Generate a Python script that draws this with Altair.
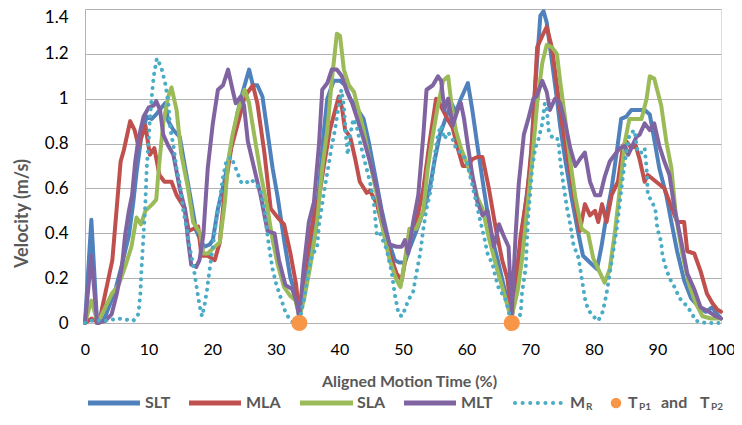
import altair as alt
import pandas as pd

# ---------------- data ----------------
slt_x = [0, 1.0, 1.9, 3.2, 4.8, 5.8, 6.9, 7.6, 8.1, 8.9, 9.7, 10.5, 11.2, 12.0, 12.6, 13.1, 13.9, 14.9, 15.7, 16.7,
         17.5, 18.3, 18.8, 19.6, 20.1, 20.9, 21.9, 23.0, 24.0, 24.8, 25.8, 26.4, 27.1, 27.9, 28.7, 29.5, 30.3, 31.3,
         32.3, 33.1, 33.7, 34.9, 36.0, 36.8, 37.5, 38.1, 39.1, 40.1, 40.9, 41.7, 42.7, 43.8, 44.6, 45.6, 46.6, 47.7,
         48.7, 49.4, 50.3, 51.0, 52.1, 53.2, 54.2, 55.0, 55.8, 56.8, 57.6, 58.3, 59.1, 60.2, 60.9, 61.7, 62.7, 63.8,
         64.9, 65.8, 67.1, 68.0, 69.0, 70.0, 70.8, 71.6, 72.1, 72.6, 73.4, 74.2, 74.7, 75.5, 76.5, 77.5, 78.3, 79.4,
         80.5, 81.2, 82.0, 82.8, 83.6, 84.3, 85.1, 85.9, 88.0, 88.8, 89.5, 90.3, 91.4, 92.2, 93.1, 94.2, 95.3, 96.6,
         97.6, 98.6, 99.4, 100]
slt_y = [0, 0.46, 0.0, 0.03, 0.15, 0.26, 0.39, 0.54, 0.67, 0.84, 0.92, 0.91, 0.93, 0.96, 0.98, 0.9, 0.86, 0.83, 0.7,
         0.54, 0.41, 0.36, 0.34, 0.35, 0.37, 0.51, 0.63, 0.79, 0.94, 1.03, 1.13, 1.06, 1.06, 1.01, 0.85, 0.69, 0.56,
         0.37, 0.2, 0.13, 0.02, 0.2, 0.4, 0.6, 0.84, 1.0, 1.08, 1.08, 1.06, 1.0, 0.96, 0.91, 0.81, 0.66, 0.51, 0.37,
         0.28, 0.27, 0.27, 0.33, 0.41, 0.5, 0.6, 0.73, 0.84, 0.92, 0.98, 0.94, 1.0, 1.07, 0.95, 0.79, 0.6, 0.4, 0.28,
         0.17, 0.02, 0.25, 0.47, 0.69, 1.06, 1.37, 1.39, 1.34, 1.17, 1.0, 0.88, 0.73, 0.56, 0.41, 0.3, 0.27, 0.24,
         0.34, 0.48, 0.6, 0.76, 0.91, 0.92, 0.95, 0.95, 0.93, 0.82, 0.69, 0.57, 0.45, 0.32, 0.19, 0.11, 0.07, 0.05,
         0.07, 0.04, 0.02]

mla_x = [0, 1.0, 2.2, 3.7, 4.3, 5.6, 6.1, 7.1, 7.8, 8.4, 9.5, 10.2, 10.9, 11.7, 12.5, 13.6, 14.4, 15.7, 16.3, 17.8,
         18.3, 19.3, 20.4, 21.2, 22.0, 23.0, 24.5, 25.1, 26.4, 27.1, 28.2, 29.2, 30.3, 31.3, 32.3, 33.2, 33.7, 34.6,
         36.0, 36.8, 37.5, 38.5, 39.9, 40.4, 40.9, 41.7, 42.5, 43.2, 44.3, 44.8, 45.9, 46.9, 47.9, 49.0, 49.8, 50.3,
         51.0, 52.1, 53.2, 54.2, 55.2, 55.7, 56.8, 57.8, 58.6, 59.4, 60.2, 60.9, 61.7, 62.5, 63.5, 64.6, 65.6, 66.4,
         67.1, 67.7, 68.5, 69.5, 70.3, 71.1, 71.9, 72.6, 73.4, 74.2, 75.0, 76.0, 77.1, 77.8, 78.6, 79.4, 80.2, 80.7,
         81.3, 82.0, 82.8, 83.8, 84.6, 85.1, 85.9, 86.6, 87.2, 88.0, 88.5, 89.8, 91.1, 91.9, 93.1, 94.2, 94.7, 95.8,
         96.8, 97.8, 98.6, 99.4, 100]
mla_y = [0, 0.02, 0.0, 0.2, 0.28, 0.72, 0.77, 0.9, 0.86, 0.79, 0.88, 0.75, 0.78, 0.66, 0.63, 0.63, 0.57, 0.51, 0.41,
         0.43, 0.3, 0.3, 0.28, 0.36, 0.6, 0.78, 0.94, 1.01, 1.06, 0.98, 0.76, 0.51, 0.47, 0.44, 0.31, 0.17, 0.03, 0.25,
         0.48, 0.56, 0.69, 0.86, 1.01, 0.96, 0.86, 0.83, 0.73, 0.63, 0.58, 0.59, 0.53, 0.42, 0.31, 0.22, 0.19, 0.27,
         0.39, 0.45, 0.6, 0.81, 1.0, 0.98, 0.92, 0.87, 0.78, 0.7, 0.7, 0.73, 0.74, 0.74, 0.6, 0.42, 0.28, 0.2, 0.03,
         0.17, 0.39, 0.57, 0.81, 1.23, 1.28, 1.32, 1.23, 1.06, 0.89, 0.72, 0.53, 0.41, 0.53, 0.48, 0.5, 0.45, 0.53,
         0.45, 0.57, 0.63, 0.79, 0.81, 0.78, 0.79, 0.73, 0.63, 0.66, 0.63, 0.6, 0.54, 0.45, 0.45, 0.32, 0.31, 0.23,
         0.13, 0.09, 0.06, 0.05]

sla_x = [0, 1.0, 2.0, 3.2, 4.2, 5.3, 6.3, 7.3, 8.1, 8.8, 9.5, 10.6, 11.2, 11.6, 12.3, 13.1, 13.6, 14.4, 15.1, 16.2,
         17.0, 18.1, 18.6, 19.3, 20.4, 21.2, 22.0, 22.5, 23.2, 24.0, 25.1, 25.8, 26.6, 27.6, 28.7, 29.5, 30.3, 31.3,
         32.3, 33.1, 33.7, 34.4, 35.4, 36.5, 37.3, 38.1, 38.8, 39.6, 40.1, 40.7, 41.5, 42.3, 43.1, 43.8, 44.8, 45.9,
         46.9, 47.9, 49.0, 49.6, 50.2, 51.0, 52.1, 53.2, 53.9, 54.7, 55.5, 56.3, 57.1, 57.6, 58.3, 59.1, 60.2, 61.1,
         61.7, 62.5, 63.5, 64.6, 65.6, 66.6, 67.1, 68.0, 68.7, 69.5, 70.3, 71.1, 71.9, 72.6, 73.4, 74.2, 74.7, 75.5,
         76.3, 77.1, 78.1, 79.1, 79.9, 80.7, 81.7, 82.5, 83.3, 84.1, 84.9, 85.6, 86.4, 87.5, 88.3, 88.8, 89.5, 90.6,
         91.4, 92.2, 92.9, 93.9, 95.0, 96.0, 97.1, 98.4, 100]
sla_y = [0, 0.1, 0.0, 0.07, 0.13, 0.17, 0.25, 0.34, 0.47, 0.44, 0.5, 0.53, 0.55, 0.69, 0.89, 1.01, 1.05, 0.95, 0.76,
         0.6, 0.45, 0.4, 0.31, 0.31, 0.34, 0.36, 0.54, 0.72, 0.84, 0.94, 1.04, 0.98, 0.84, 0.67, 0.51, 0.37, 0.26,
         0.16, 0.12, 0.1, 0.03, 0.1, 0.25, 0.45, 0.69, 0.86, 1.08, 1.29, 1.28, 1.13, 1.06, 1.03, 0.94, 0.86, 0.72,
         0.57, 0.41, 0.28, 0.19, 0.16, 0.26, 0.42, 0.42, 0.5, 0.69, 0.84, 0.97, 1.08, 1.1, 0.98, 0.86, 0.78, 0.7,
         0.63, 0.56, 0.51, 0.38, 0.26, 0.16, 0.06, 0.03, 0.14, 0.28, 0.5, 0.72, 0.98, 1.16, 1.24, 1.23, 1.2, 1.08,
         0.91, 0.72, 0.56, 0.42, 0.4, 0.29, 0.24, 0.18, 0.24, 0.4, 0.6, 0.81, 0.91, 0.91, 0.91, 1.0, 1.1, 1.09, 0.97,
         0.81, 0.69, 0.48, 0.31, 0.17, 0.09, 0.03, 0.02, 0.02]

mlt_x = [0, 1.0, 1.9, 3.2, 4.2, 5.0, 5.8, 6.3, 6.9, 7.4, 7.9, 8.4, 9.2, 10.0, 10.8, 11.2, 11.8, 12.3, 13.1, 13.9,
         14.9, 15.7, 16.2, 16.7, 17.5, 18.0, 18.6, 19.3, 20.1, 20.9, 21.7, 22.5, 23.2, 23.7, 24.5, 25.0, 25.6, 26.6,
         27.6, 28.7, 29.8, 30.5, 31.5, 32.6, 33.2, 33.7, 34.4, 35.2, 36.0, 36.8, 37.3, 38.1, 38.8, 39.6, 40.4, 41.2,
         42.0, 42.7, 43.8, 44.8, 45.9, 46.9, 47.9, 49.0, 49.8, 50.3, 50.8, 51.6, 52.4, 53.2, 53.7, 54.7, 55.5, 56.0,
         56.5, 57.1, 57.8, 58.6, 59.1, 59.6, 60.2, 60.9, 61.7, 62.5, 63.3, 64.3, 65.1, 65.8, 66.6, 67.1, 67.7, 68.2,
         69.0, 69.7, 70.5, 71.0, 71.9, 72.6, 73.1, 73.9, 74.7, 75.5, 76.3, 77.1, 77.8, 78.6, 79.4, 80.2, 81.0, 81.7,
         82.5, 83.3, 84.1, 84.9, 85.4, 85.9, 86.7, 87.2, 88.0, 88.8, 89.5, 90.3, 91.1, 91.9, 92.7, 93.7, 94.7, 95.8,
         96.8, 98.1, 99.2, 100]
mlt_y = [0, 0.3, 0.0, 0.01, 0.04, 0.13, 0.25, 0.39, 0.5, 0.57, 0.72, 0.82, 0.92, 0.96, 0.97, 0.99, 0.95, 0.84, 0.79,
         0.75, 0.6, 0.51, 0.37, 0.26, 0.25, 0.28, 0.39, 0.69, 0.89, 1.04, 1.06, 1.13, 1.04, 0.98, 1.01, 0.97, 0.81,
         0.69, 0.57, 0.41, 0.4, 0.28, 0.17, 0.15, 0.1, 0.03, 0.25, 0.45, 0.54, 0.8, 1.04, 1.07, 1.13, 1.13, 1.1, 1.03,
         0.98, 0.92, 0.82, 0.72, 0.6, 0.45, 0.35, 0.34, 0.34, 0.37, 0.31, 0.45, 0.57, 0.84, 1.04, 1.06, 1.1, 1.08,
         0.95, 1.0, 0.88, 0.95, 0.98, 0.91, 0.79, 0.66, 0.54, 0.48, 0.5, 0.34, 0.44, 0.39, 0.34, 0.04, 0.39, 0.62,
         0.84, 0.91, 1.0, 1.01, 1.08, 1.03, 0.95, 1.0, 0.98, 0.89, 0.78, 0.7, 0.73, 0.76, 0.63, 0.57, 0.57, 0.65,
         0.72, 0.75, 0.78, 0.79, 0.75, 0.78, 0.83, 0.84, 0.89, 0.86, 0.89, 0.79, 0.72, 0.66, 0.51, 0.37, 0.22, 0.15,
         0.07, 0.05, 0.03, 0.02]

mr_x = [0, 1.0, 3.2, 5.3, 7.6, 8.4, 8.7, 8.9, 9.2, 9.5, 9.7, 10.0, 10.2, 10.5, 10.8, 11.3, 12.0, 12.6, 13.1, 13.4,
        13.9, 14.4, 15.0, 15.4, 16.0, 16.5, 17.0, 17.5, 18.0, 18.4, 18.8, 19.2, 19.6, 20.1, 20.6, 21.2, 21.7, 22.2,
        23.0, 23.7, 24.5, 25.1, 26.1, 26.9, 27.6, 28.2, 28.7, 29.1, 29.5, 30.1, 30.8, 31.5, 32.3, 33.0, 33.8, 34.4,
        35.2, 35.7, 36.5, 36.8, 37.3, 37.8, 38.4, 38.8, 39.3, 39.9, 40.3, 40.7, 41.0, 41.3, 41.7, 42.2, 42.7, 43.2,
        44.0, 44.8, 45.4, 45.9, 46.4, 47.4, 48.2, 48.7, 49.3, 49.8, 50.3, 50.8, 51.6, 52.1, 52.7, 53.2, 53.7, 54.2,
        54.7, 55.0, 55.5, 56.0, 56.5, 57.1, 57.8, 58.3, 59.1, 59.9, 60.7, 61.5, 62.2, 62.7, 63.3, 64.1, 64.6, 65.1,
        65.6, 66.2, 66.7, 67.3, 68.0, 68.5, 68.7, 69.3, 69.5, 69.7, 70.0, 70.3, 70.8, 71.3, 71.9, 72.3, 72.6, 72.9,
        73.6, 74.4, 74.7, 75.2, 75.8, 76.3, 76.8, 77.6, 78.1, 78.6, 79.1, 79.9, 80.7, 81.4, 82.0, 82.5, 83.0, 83.6,
        84.1, 84.6, 85.1, 85.6, 86.4, 86.9, 87.5, 88.0, 88.3, 88.5, 89.2, 89.7, 90.0, 90.6, 90.8, 91.4, 91.9, 92.7,
        93.5, 94.2, 95.3, 96.0, 97.6, 100]
mr_y = [0, 0.01, 0.01, 0.02, 0.01, 0.04, 0.13, 0.25, 0.39, 0.54, 0.69, 0.81, 0.91, 1.01, 1.1, 1.18, 1.14, 1.07, 0.98,
        0.87, 0.79, 0.69, 0.61, 0.51, 0.42, 0.33, 0.26, 0.17, 0.08, 0.03, 0.08, 0.15, 0.24, 0.34, 0.45, 0.55, 0.65,
        0.72, 0.74, 0.69, 0.63, 0.62, 0.64, 0.62, 0.59, 0.51, 0.39, 0.31, 0.24, 0.17, 0.11, 0.05, 0.01, 0.0, 0.02,
        0.1, 0.24, 0.3, 0.34, 0.44, 0.53, 0.62, 0.72, 0.79, 0.86, 0.97, 1.04, 0.97, 0.84, 0.75, 0.84, 0.91, 0.88,
        0.81, 0.72, 0.63, 0.54, 0.39, 0.4, 0.33, 0.23, 0.13, 0.04, 0.03, 0.06, 0.1, 0.14, 0.22, 0.31, 0.42, 0.51,
        0.57, 0.66, 0.75, 0.84, 0.88, 0.82, 0.85, 0.82, 0.78, 0.76, 0.73, 0.64, 0.54, 0.45, 0.39, 0.31, 0.26, 0.2,
        0.15, 0.13, 0.1, 0.04, 0.0, 0.02, 0.04, 0.13, 0.25, 0.37, 0.48, 0.58, 0.69, 0.78, 0.82, 0.89, 0.98, 0.96,
        0.86, 0.82, 0.82, 0.73, 0.62, 0.51, 0.44, 0.35, 0.29, 0.2, 0.11, 0.06, 0.03, 0.01, 0.05, 0.13, 0.22, 0.31,
        0.42, 0.54, 0.66, 0.76, 0.84, 0.86, 0.76, 0.76, 0.78, 0.69, 0.57, 0.54, 0.5, 0.42, 0.36, 0.3, 0.24, 0.2,
        0.16, 0.11, 0.09, 0.05, 0.01, 0.0, 0.0]

tp_x = [33.7, 67.1]
tp_y = [0.0, 0.0]

x_ticks = [0, 10, 20, 30, 40, 50, 60, 70, 80, 90, 100]
y_ticks = [0, 0.2, 0.4, 0.6, 0.8, 1.0, 1.2, 1.4]

series = [("SLT", slt_x, slt_y), ("MLA", mla_x, mla_y), ("SLA", sla_x, sla_y), ("MLT", mlt_x, mlt_y)]
for name, xs, ys in series + [("MR", mr_x, mr_y), ("TP", tp_x, tp_y)]:
    assert len(xs) == len(ys), name

# ---------------- styling ----------------
FONT = "Lato"
GRID = "#B3B3B3"
TXT = "#595959"
COLORS = {"SLT": "#4F81BD", "MLA": "#C0504D", "SLA": "#9BBB59", "MLT": "#8064A2",
          "MR": "#4BACC6", "TP": "#F79646"}
W, H = 636, 314

x_scale = alt.Scale(domain=[0, 100], nice=False, zero=False)
y_scale = alt.Scale(domain=[0, 1.4], nice=False)
x_axis = alt.Axis(values=x_ticks, grid=False, ticks=False, domain=True, domainColor=GRID,
                  labelFont=FONT, labelFontSize=16, labelColor="#000000", labelPadding=18,
                  labelFlush=False,
                  title="Aligned Motion Time (%)", titleFont=FONT, titleFontSize=16,
                  titleFontWeight="bold", titleColor=TXT, titleX=324, titleY=58,
                  titleBaseline="middle", titleAlign="center")
y_axis = alt.Axis(values=y_ticks, format="~g", grid=True, gridColor=GRID, gridWidth=1,
                  ticks=False, domain=True, domainColor=GRID,
                  labelFont=FONT, labelFontSize=17, labelColor="#000000", labelPadding=17,
                  labelFlush=False,
                  labelBaseline={"condition": {"test": "datum.value >= 1.39", "value": "top"},
                                 "value": "middle"},
                  title="Velocity (m/s)", titleFont=FONT, titleFontSize=18, titleFontWeight="bold",
                  titleColor=TXT, titleX=-63, titleY=204, titleAngle=270,
                  titleBaseline="middle", titleAlign="center")


def enc(ch):
    return ch.encode(
        x=alt.X("t:Q", scale=x_scale, axis=x_axis),
        y=alt.Y("v:Q", scale=y_scale, axis=y_axis),
    )


layers = []
for name, xs, ys in series:
    df = pd.DataFrame({"t": xs, "v": ys})
    layers.append(enc(alt.Chart(df).mark_line(color=COLORS[name], strokeWidth=4,
                                              strokeJoin="round", strokeCap="round")))

mr_df = pd.DataFrame({"t": mr_x, "v": mr_y})
layers.append(enc(alt.Chart(mr_df).mark_line(color=COLORS["MR"], strokeWidth=4,
                                             strokeCap="round", strokeDash=[0.1, 7])))

tp_df = pd.DataFrame({"t": tp_x, "v": tp_y})
layers.append(enc(alt.Chart(tp_df).mark_point(filled=True, shape="circle", size=260,
                                              color=COLORS["TP"], opacity=1)))

# ---------------- manual legend (layout only) ----------------
dummy = pd.DataFrame({"k": [0]})
LY = 394
legend_items = [("SLT", 3, 55, 60), ("MLA", 104, 156, 161), ("SLA", 215, 268, 272),
                ("MLT", 319, 371, 376)]
for name, a, b, lx in legend_items:
    layers.append(alt.Chart(dummy).mark_rule(color=COLORS[name], strokeWidth=5).encode(
        x=alt.value(a), x2=alt.value(b), y=alt.value(LY)))
    layers.append(alt.Chart(dummy).mark_text(text=name, font=FONT, fontSize=16, fontWeight="bold",
                                             color=TXT, align="left", baseline="middle").encode(
        x=alt.value(lx), y=alt.value(LY)))

layers.append(alt.Chart(dummy).mark_rule(color=COLORS["MR"], strokeWidth=4, strokeCap="round",
                                         strokeDash=[0.1, 7.5]).encode(
    x=alt.value(430), x2=alt.value(481), y=alt.value(LY)))
layers.append(alt.Chart(dummy).mark_point(filled=True, shape="circle", size=110, opacity=1,
                                          color=COLORS["TP"]).encode(
    x=alt.value(531), y=alt.value(LY)))

texts = [("M", 485, LY, 16), ("R", 501, LY + 4, 10),
         ("T", 543, LY, 16), ("P1", 554, LY + 4, 10), ("and", 576, LY, 16),
         ("T", 615, LY, 16), ("P2", 626, LY + 4, 10)]
for t, tx, ty, fs in texts:
    layers.append(alt.Chart(dummy).mark_text(text=t, font=FONT, fontSize=fs, fontWeight="bold",
                                             color=TXT, align="left", baseline="middle").encode(
        x=alt.value(tx), y=alt.value(ty)))

chart = alt.layer(*layers).properties(
    width=W, height=H,
    autosize=alt.AutoSizeParams(type="none"),
    padding={"left": 77, "top": 1, "right": 13, "bottom": 88},
).configure_view(stroke=None).configure(background="white")

chart.save("out.html", embed_options={"renderer": "svg", "actions": False})
